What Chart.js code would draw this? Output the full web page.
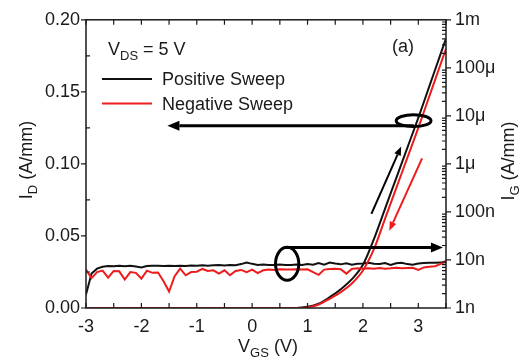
<!DOCTYPE html>
<html>
<head>
<meta charset="utf-8">
<script src="https://cdn.jsdelivr.net/npm/chart.js@4.4.0/dist/chart.umd.min.js"></script>
<style>
  html, body { margin: 0; padding: 0; background: #fff; }
  #wrap { width: 521px; height: 362px; }
</style>
</head>
<body>
<div id="wrap"><canvas id="transferChart"></canvas></div>
<script>
// drain current (left axis, A/mm)
const vgsId = [-3.0, 0.8, 1.0, 1.2, 1.4, 1.6, 1.8, 2.0, 2.2, 2.4, 2.6, 2.8, 3.0, 3.2, 3.4, 3.5];
const idPositive = [0, 0, 0.0008, 0.003, 0.0075, 0.013, 0.020, 0.030, 0.048, 0.069, 0.090, 0.111, 0.132, 0.154, 0.176, 0.187];
const idNegative = [0, 0, 0.0004, 0.0024, 0.0064, 0.011, 0.017, 0.026, 0.041, 0.062, 0.083, 0.104, 0.125, 0.147, 0.169, 0.180];

// gate current (right axis, log, A/mm)
const vgsIg = [-3.0, -2.9, -2.8, -2.7, -2.6, -2.5, -2.4, -2.3, -2.2, -2.1, -2.0, -1.9, -1.8, -1.7, -1.6, -1.5, -1.4, -1.3, -1.2, -1.1,
  -1.0, -0.9, -0.8, -0.7, -0.6, -0.5, -0.4, -0.3, -0.2, -0.1, 0.0, 0.1, 0.2, 0.3, 0.4, 0.5, 0.6, 0.7, 0.8, 0.9,
  1.0, 1.1, 1.2, 1.3, 1.4, 1.5, 1.6, 1.7, 1.8, 1.9, 2.0, 2.1, 2.2, 2.3, 2.4, 2.5, 2.6, 2.7, 2.8, 2.9,
  3.0, 3.1, 3.2, 3.3, 3.4, 3.5];
const igPositive = [1.9e-9, 5.2e-9, 6.6e-9, 7.2e-9, 7.5e-9, 7.4e-9, 7.6e-9, 7.4e-9, 7.6e-9, 7.3e-9, 7.0e-9, 7.5e-9, 7.6e-9, 7.6e-9, 7.5e-9, 7.6e-9, 7.5e-9, 7.6e-9, 7.5e-9, 7.7e-9,
  7.6e-9, 7.8e-9, 7.6e-9, 7.8e-9, 7.9e-9, 7.7e-9, 7.9e-9, 7.8e-9, 8.2e-9, 8.8e-9, 8.3e-9, 7.9e-9, 8.0e-9, 7.9e-9, 7.9e-9, 8.0e-9, 7.9e-9, 7.9e-9, 8.0e-9, 7.9e-9,
  8.2e-9, 8.0e-9, 8.6e-9, 8.0e-9, 8.8e-9, 8.4e-9, 8.1e-9, 8.5e-9, 8.0e-9, 8.3e-9, 8.4e-9, 8.7e-9, 8.3e-9, 8.2e-9, 8.6e-9, 7.9e-9, 8.5e-9, 8.7e-9, 8.2e-9, 8.0e-9,
  8.4e-9, 8.6e-9, 8.7e-9, 8.8e-9, 8.9e-9, 9.0e-9];
const igNegative = [6.3e-9, 4.2e-9, 5.6e-9, 6.0e-9, 4.3e-9, 5.9e-9, 5.8e-9, 3.9e-9, 5.6e-9, 5.4e-9, 4.1e-9, 6.0e-9, 5.4e-9, 5.5e-9, 3.6e-9, 2.2e-9, 4.6e-9, 6.6e-9, 4.8e-9, 5.6e-9,
  5.7e-9, 6.5e-9, 5.9e-9, 6.1e-9, 5.2e-9, 6.1e-9, 4.8e-9, 5.9e-9, 6.2e-9, 5.6e-9, 6.3e-9, 5.3e-9, 6.1e-9, 6.3e-9, 6.2e-9, 6.4e-9, 6.3e-9, 6.3e-9, 6.4e-9, 6.3e-9,
  6.4e-9, 5.6e-9, 4.9e-9, 6.3e-9, 6.5e-9, 6.6e-9, 6.4e-9, 5.2e-9, 6.5e-9, 6.7e-9, 6.6e-9, 6.7e-9, 6.6e-9, 6.8e-9, 6.6e-9, 6.7e-9, 6.9e-9, 6.7e-9, 6.8e-9, 6.9e-9,
  6.2e-9, 7.0e-9, 7.2e-9, 7.4e-9, 8.2e-9, 9.7e-9];

const xTicks = [-3, -2, -1, 0, 1, 2, 3];
const idTicks = [0, 0.05, 0.10, 0.15, 0.20];
const idTickLabels = ['0.00', '0.05', '0.10', '0.15', '0.20'];
const igTicks = [1e-9, 1e-8, 1e-7, 1e-6, 1e-5, 1e-4, 1e-3];
const igTickLabels = ['1n', '10n', '100n', '1μ', '10μ', '100μ', '1m'];

const FONT = "'Liberation Sans', Arial, sans-serif";
const ink = '#1a1a1a';
const red = '#ee1c1c';

const pts = (xs, ys) => xs.map((x, i) => ({ x: x, y: ys[i] }));

function arrow(ctx, x1, y1, x2, y2, color, width, headLen, headHalf) {
    const ang = Math.atan2(y2 - y1, x2 - x1);
    const bx = x2 - headLen * Math.cos(ang), by = y2 - headLen * Math.sin(ang);
    ctx.strokeStyle = color;
    ctx.fillStyle = color;
    ctx.lineWidth = width;
    ctx.beginPath(); ctx.moveTo(x1, y1); ctx.lineTo(bx, by); ctx.stroke();
    ctx.beginPath();
    ctx.moveTo(x2, y2);
    ctx.lineTo(bx + headHalf * Math.sin(ang), by - headHalf * Math.cos(ang));
    ctx.lineTo(bx - headHalf * Math.sin(ang), by + headHalf * Math.cos(ang));
    ctx.closePath(); ctx.fill();
}

// text with subscripts, parts = [[text, isSub], ...]
function subText(ctx, parts, x, y, align) {
    const big = '18px ' + FONT, small = '13px ' + FONT;
    let w = 0;
    parts.forEach(p => { ctx.font = p[1] ? small : big; w += ctx.measureText(p[0]).width; });
    let cx = align === 'center' ? x - w / 2 : x;
    ctx.textAlign = 'left';
    ctx.textBaseline = 'alphabetic';
    parts.forEach(p => {
        ctx.font = p[1] ? small : big;
        ctx.fillText(p[0], cx, p[1] ? y + 5 : y);
        cx += ctx.measureText(p[0]).width;
    });
}

const decorations = {
    id: 'decorations',
    afterDraw(chart) {
        const { ctx, chartArea: a, scales } = chart;
        const X = v => scales.x.getPixelForValue(v);
        const Y = v => scales.y.getPixelForValue(v);
        const Y2 = v => scales.y2.getPixelForValue(v);
        ctx.save();

        // frame
        ctx.strokeStyle = ink;
        ctx.lineWidth = 1.5;
        ctx.strokeRect(a.left, a.top, a.right - a.left, a.bottom - a.top);

        // ticks
        ctx.lineWidth = 1.2;
        ctx.beginPath();
        for (let v = -3; v <= 3.5; v += 0.5) {
            ctx.moveTo(X(v), a.bottom); ctx.lineTo(X(v), a.bottom - 5);
            ctx.moveTo(X(v), a.top); ctx.lineTo(X(v), a.top + 5);
        }
        for (let i = 0; i <= 8; i++) {
            const v = i * 0.025;
            if (i % 2 === 0) { ctx.moveTo(a.left, Y(v)); ctx.lineTo(a.left - 5, Y(v)); }
            else { ctx.moveTo(a.left, Y(v)); ctx.lineTo(a.left + 4, Y(v)); }
        }
        igTicks.forEach((d, i) => {
            ctx.moveTo(a.right, Y2(d)); ctx.lineTo(a.right + 5, Y2(d));
            if (i < igTicks.length - 1) {
                for (let m = 2; m <= 9; m++) { ctx.moveTo(a.right, Y2(m * d)); ctx.lineTo(a.right - 4, Y2(m * d)); }
            }
        });
        ctx.stroke();

        // ellipses and arrows
        ctx.strokeStyle = '#000';
        ctx.lineWidth = 3;
        ctx.beginPath();
        ctx.ellipse(X(2.915), Y(0.130), X(2.915 + 0.314) - X(2.915), Y(0.130) - Y(0.130 + 0.0041), 0, 0, Math.PI * 2);
        ctx.stroke();
        ctx.beginPath();
        ctx.ellipse(X(0.632), Y(0.0307), X(0.632 + 0.21) - X(0.632), Y(0.0307) - Y(0.0307 + 0.0115), 0, 0, Math.PI * 2);
        ctx.stroke();
        arrow(ctx, X(2.92), Y(0.1265), X(-1.53), Y(0.1265), '#000', 3, 12, 5);
        arrow(ctx, X(0.60), Y(0.0419), X(3.445), Y(0.0419), '#000', 3, 12, 5);
        arrow(ctx, X(2.153), Y(0.0653), X(2.691), Y(0.1121), '#000', 2, 9, 3.5);
        arrow(ctx, X(3.068), Y(0.1038), X(2.476), Y(0.0536), red, 2, 9, 3.5);

        // texts
        ctx.fillStyle = ink;
        subText(ctx, [['V', false], ['DS', true], [' = 5 V', false]], 108, 55, 'left');
        ctx.font = '18px ' + FONT;
        ctx.textAlign = 'center';
        ctx.textBaseline = 'alphabetic';
        ctx.fillText('(a)', 403, 52);

        // legend
        ctx.lineWidth = 2;
        ctx.strokeStyle = '#111';
        ctx.beginPath(); ctx.moveTo(102, 79); ctx.lineTo(152, 79); ctx.stroke();
        ctx.strokeStyle = red;
        ctx.beginPath(); ctx.moveTo(102, 103.5); ctx.lineTo(152, 103.5); ctx.stroke();
        ctx.fillStyle = ink;
        ctx.font = '18px ' + FONT;
        ctx.textAlign = 'left';
        ctx.fillText('Positive Sweep', 162, 85);
        ctx.fillText('Negative Sweep', 162, 110);

        // axis titles
        subText(ctx, [['V', false], ['GS', true], [' (V)', false]], 268, 352, 'center');
        ctx.save();
        ctx.translate(32, 160);
        ctx.rotate(-Math.PI / 2);
        subText(ctx, [['I', false], ['D', true], [' (A/mm)', false]], 0, 0, 'center');
        ctx.restore();
        ctx.save();
        ctx.translate(514, 161);
        ctx.rotate(-Math.PI / 2);
        subText(ctx, [['I', false], ['G', true], [' (A/mm)', false]], 0, 0, 'center');
        ctx.restore();

        ctx.restore();
    }
};

const tickFont = { family: FONT, size: 18 };

new Chart(document.getElementById('transferChart').getContext('2d'), {
    type: 'line',
    data: {
        datasets: [
            {
                label: 'ID negative',
                data: pts(vgsId, idNegative),
                yAxisID: 'y',
                borderColor: red,
                borderWidth: 2,
                pointRadius: 0,
                cubicInterpolationMode: 'monotone'
            },
            {
                label: 'IG negative',
                data: pts(vgsIg, igNegative),
                yAxisID: 'y2',
                borderColor: red,
                borderWidth: 2,
                pointRadius: 0
            },
            {
                label: 'ID positive',
                data: pts(vgsId, idPositive),
                yAxisID: 'y',
                borderColor: '#111',
                borderWidth: 2,
                pointRadius: 0,
                cubicInterpolationMode: 'monotone'
            },
            {
                label: 'IG positive',
                data: pts(vgsIg, igPositive),
                yAxisID: 'y2',
                borderColor: '#111',
                borderWidth: 2,
                pointRadius: 0
            }
        ]
    },
    options: {
        responsive: true,
        maintainAspectRatio: false,
        animation: false,
        layout: { padding: { top: 17, left: 0, right: 0, bottom: 0 } },
        plugins: {
            legend: { display: false },
            tooltip: { enabled: false }
        },
        scales: {
            x: {
                type: 'linear',
                min: -3,
                max: 3.5,
                grid: { display: false, drawTicks: false },
                border: { display: false },
                ticks: { font: tickFont, color: ink, padding: 8, maxRotation: 0 },
                afterBuildTicks: s => { s.ticks = xTicks.map(v => ({ value: v })); },
                afterFit: s => { s.height = 54; }
            },
            y: {
                position: 'left',
                min: 0,
                max: 0.2,
                grid: { display: false, drawTicks: false },
                border: { display: false },
                ticks: { font: tickFont, color: ink, padding: 6, callback: v => idTickLabels[idTicks.indexOf(v)] },
                afterBuildTicks: s => { s.ticks = idTicks.map(v => ({ value: v })); },
                afterFit: s => { s.width = 86; }
            },
            y2: {
                type: 'logarithmic',
                position: 'right',
                min: 1e-9,
                max: 1e-3,
                grid: { display: false, drawTicks: false },
                border: { display: false },
                ticks: { font: tickFont, color: ink, padding: 9, callback: v => igTickLabels[igTicks.indexOf(v)] },
                afterBuildTicks: s => { s.ticks = igTicks.map(v => ({ value: v })); },
                afterFit: s => { s.width = 75; }
            }
        }
    },
    plugins: [decorations]
});
</script>
</body>
</html>
